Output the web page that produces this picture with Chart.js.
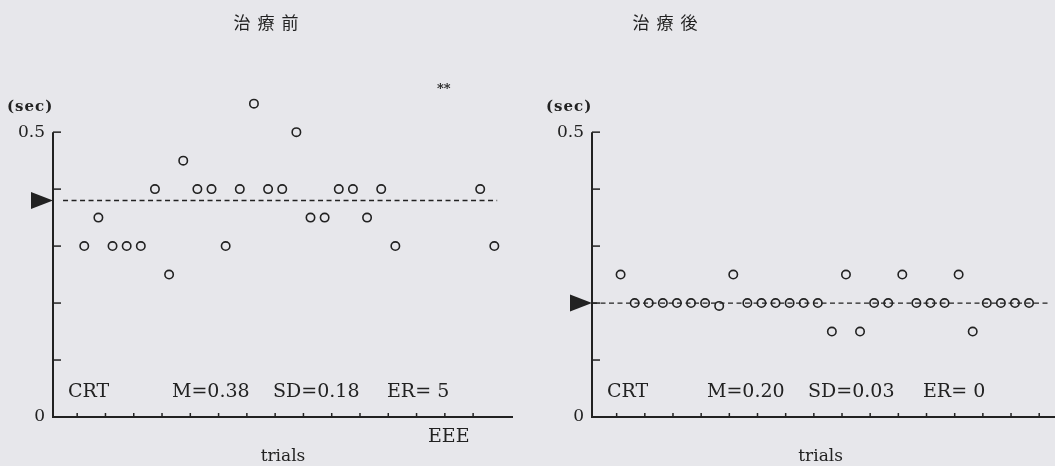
<!DOCTYPE html>
<html>
<head>
<meta charset="utf-8">
<script src="https://cdn.jsdelivr.net/npm/chart.js@4"></script>
<style>
  html, body { margin: 0; padding: 0; background: #e7e7eb; }
  #wrap { position: relative; width: 1055px; height: 466px; overflow: hidden; }
  .box { position: absolute; top: 0; height: 466px; }
  #boxBefore { left: 0; width: 530px; }
  #boxAfter { left: 530px; width: 525px; }
</style>
</head>
<body>
<div id="wrap">
  <div class="box" id="boxBefore"><canvas id="chartBefore"></canvas></div>
  <div class="box" id="boxAfter"><canvas id="chartAfter"></canvas></div>
</div>
<script>
// donnees (temps de reaction en sec, par essai)
const titles = ["治療前", "治療後"];

// avant traitement : essais 24-28 = erreurs (pas de point)
const trialsBefore = [1, 2, 3, 4, 5, 6, 7, 8, 9, 10, 11, 12, 13, 14, 15, 16, 17, 18, 19, 20, 21, 22, 23, 29, 30];
const valuesBefore = [0.30, 0.35, 0.30, 0.30, 0.30, 0.40, 0.25, 0.45, 0.40, 0.40, 0.30, 0.40, 0.55, 0.40, 0.40, 0.50, 0.35, 0.35, 0.40, 0.40, 0.35, 0.40, 0.30, 0.40, 0.30];
const meanBefore = 0.38;
const statsBefore = ["M=0.38", "SD=0.18", "ER= 5"];

// apres traitement : 30 essais, aucune erreur
const trialsAfter = [1, 2, 3, 4, 5, 6, 7, 8, 9, 10, 11, 12, 13, 14, 15, 16, 17, 18, 19, 20, 21, 22, 23, 24, 25, 26, 27, 28, 29, 30];
const valuesAfter = [0.25, 0.20, 0.20, 0.20, 0.20, 0.20, 0.20, 0.195, 0.25, 0.20, 0.20, 0.20, 0.20, 0.20, 0.20, 0.15, 0.25, 0.15, 0.20, 0.20, 0.25, 0.20, 0.20, 0.20, 0.25, 0.15, 0.20, 0.20, 0.20, 0.20];
const meanAfter = 0.20;
const statsAfter = ["M=0.20", "SD=0.03", "ER= 0"];

const yTicks = [0, 0.1, 0.2, 0.3, 0.4, 0.5];
const yLabels = ["0", "", "", "", "", "0.5"];

const ink = "#222";
const serif = "'DejaVu Serif', 'Liberation Serif', serif";
const cjk = "'Noto Sans CJK JP', 'Noto Sans CJK SC', sans-serif";

// dessine les axes, graduations interieures et textes
function annotations(cfg) {
    return {
        id: "annot",
        afterDraw(chart) {
            const ctx = chart.ctx;
            const xs = chart.scales.x, ys = chart.scales.y;
            const area = chart.chartArea;
            const y0 = ys.getPixelForValue(0);
            const y5 = ys.getPixelForValue(0.5);
            ctx.save();
            ctx.strokeStyle = ink;
            ctx.fillStyle = ink;
            // axes
            ctx.lineWidth = 2;
            ctx.beginPath();
            ctx.moveTo(area.left, y5);
            ctx.lineTo(area.left, y0);
            ctx.lineTo(cfg.axisEnd, y0);
            ctx.stroke();
            // graduations y (vers l'interieur)
            ctx.lineWidth = 1.5;
            yTicks.forEach(v => {
                const py = ys.getPixelForValue(v);
                if (v === 0) return;
                ctx.beginPath();
                ctx.moveTo(area.left, py);
                ctx.lineTo(area.left + 8, py);
                ctx.stroke();
            });
            // graduations x
            xs.ticks.forEach(t => {
                const px = xs.getPixelForValue(t.value);
                if (px > cfg.axisEnd) return;
                ctx.beginPath();
                ctx.moveTo(px, y0);
                ctx.lineTo(px, y0 - 4);
                ctx.stroke();
            });
            // triangle de la moyenne
            const ym = ys.getPixelForValue(cfg.mean);
            ctx.beginPath();
            ctx.moveTo(area.left - 22, ym - 8.5);
            ctx.lineTo(area.left, ym);
            ctx.lineTo(area.left - 22, ym + 8.5);
            ctx.closePath();
            ctx.fill();
            // textes
            ctx.textBaseline = "middle";
            ctx.textAlign = "center";
            ctx.font = "17px " + cjk;
            ctx.letterSpacing = "7px";
            ctx.fillText(cfg.title, cfg.titleX + 3.5, 23);
            ctx.letterSpacing = "1px";
            ctx.textAlign = "left";
            ctx.font = "bold 15px " + serif;
            ctx.fillText("(sec)", area.left - 46, 107);
            ctx.letterSpacing = "0px";
            ctx.font = "19px " + serif;
            ctx.fillText("CRT", area.left + 15, 392);
            cfg.stats.forEach((s, i) => ctx.fillText(s, cfg.statsX[i], 392));
            if (cfg.extra) cfg.extra(ctx);
            ctx.restore();
        }
    };
}

function makeChart(id, trials, values, mean, cfg) {
    return new Chart(document.getElementById(id), {
        type: "scatter",
        data: {
            datasets: [
                {
                    data: trials.map((t, i) => ({ x: t, y: values[i] })),
                    pointStyle: "circle",
                    pointRadius: 4.2,
                    pointBorderWidth: 1.6,
                    pointBorderColor: ink,
                    pointBackgroundColor: "rgba(0,0,0,0)",
                    showLine: false
                },
                {
                    data: [{ x: cfg.dashFrom, y: mean }, { x: cfg.dashTo, y: mean }],
                    showLine: true,
                    borderColor: ink,
                    borderWidth: 1.3,
                    borderDash: [5, 3.5],
                    pointRadius: 0
                }
            ]
        },
        options: {
            responsive: true,
            maintainAspectRatio: false,
            animation: false,
            events: [],
            layout: { padding: cfg.padding },
            plugins: { legend: { display: false }, tooltip: { enabled: false } },
            scales: {
                x: {
                    type: "linear",
                    min: cfg.xMin,
                    max: cfg.xMax,
                    afterBuildTicks: s => { s.ticks = cfg.xTicks.map(v => ({ value: v })); },
                    ticks: { display: false },
                    grid: { display: false, drawTicks: false },
                    border: { display: false },
                    title: {
                        display: true,
                        text: "trials",
                        color: ink,
                        font: { family: serif, size: 17, lineHeight: 1 },
                        padding: { top: 31.5, bottom: 0.5 }
                    }
                },
                y: {
                    min: 0,
                    max: 0.7,
                    afterBuildTicks: s => { s.ticks = yTicks.map(v => ({ value: v })); },
                    afterFit: s => { s.width = cfg.yWidth; },
                    ticks: {
                        color: ink,
                        padding: 8,
                        font: { family: serif, size: 17 },
                        callback: (v, i) => yLabels[i]
                    },
                    grid: { display: false, drawTicks: false },
                    border: { display: false }
                }
            }
        },
        plugins: [annotations(Object.assign({ mean: mean }, cfg))]
    });
}

const ticksBefore = [];
for (let t = 0.5; t < 30; t += 2) ticksBefore.push(t);
const ticksAfter = [];
for (let t = 0.72; t < 32; t += 2) ticksAfter.push(t);

makeChart("chartBefore", trialsBefore, valuesBefore, meanBefore, {
    padding: { left: 0, right: 17, top: 13.8, bottom: 0 },
    yWidth: 53,
    xMin: -1.21, xMax: 31.32,
    xTicks: ticksBefore,
    dashFrom: -0.5, dashTo: 30.2,
    axisEnd: 513,
    title: titles[0], titleX: 266,
    stats: statsBefore, statsX: [172, 273, 387],
    extra: ctx => {
        ctx.font = "19px " + serif;
        ctx.fillText("EEE", 428, 437);
        ctx.font = "bold 13px " + serif;
        ctx.fillText("**", 437, 90);
    }
});

makeChart("chartAfter", trialsAfter, valuesAfter, meanAfter, {
    padding: { left: 0, right: 0, top: 17.3, bottom: 0 },
    yWidth: 62,
    xMin: -1.03, xMax: 31.43,
    xTicks: ticksAfter,
    dashFrom: -1.03, dashTo: 31.43,
    axisEnd: 525,
    title: titles[1], titleX: 135,
    stats: statsAfter, statsX: [177, 278, 393]
});
</script>
</body>
</html>
